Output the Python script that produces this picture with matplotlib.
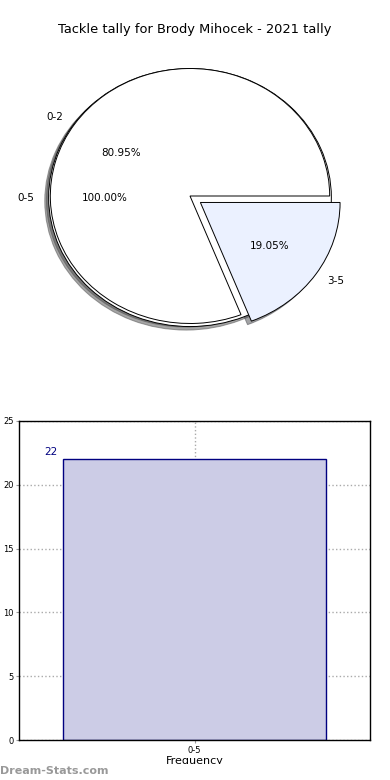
# tackle_tally.py
# Pie + bar summary of Brody Mihocek's 2021 tackle tally.

import matplotlib
matplotlib.use("Agg")
import matplotlib.pyplot as plt
from matplotlib.patches import Rectangle

# data
title = "Tackle tally for Brody Mihocek - 2021 tally"
total_labels = ["0-5"]
total_values = [22]
split_labels = ["0-2", "3-5"]
split_values = [17, 4]
split_explode = [0, 0.09]
bar_labels = ["0-5"]
bar_values = [22]


def draw_pie(ax):
    # outer pie: whole range as a single wedge, sits a touch lower
    ax.pie(total_values, labels=total_labels, autopct="%1.2f%%",
           startangle=0, shadow=True, colors=["white"],
           center=(0, -0.012), radius=1.012,
           wedgeprops={"edgecolor": "black", "linewidth": 0.7},
           textprops={"fontsize": 7.5})
    # inner pie: split of the range, drawn on top
    ax.pie(split_values, labels=split_labels, autopct="%1.2f%%",
           startangle=0, shadow=True, explode=split_explode,
           colors=["white", "#ebf1ff"],
           wedgeprops={"edgecolor": "black", "linewidth": 0.7},
           textprops={"fontsize": 7.5})
    ax.set_aspect("auto")
    ax.set_xlim(-1.26, 1.26)
    ax.set_ylim(-1.255, 1.255)


def draw_bars(ax):
    x = list(range(len(bar_labels)))
    bars = ax.bar(x, bar_values, width=0.75, color="#ccccE6",
                  edgecolor="#000080", linewidth=1.0, zorder=2)
    for b, v in zip(bars, bar_values):
        ax.annotate(str(v), (b.get_x(), v), xytext=(-4, 2),
                    textcoords="offset points", ha="right", va="bottom",
                    color="#000080", fontsize=7.5)
    ax.set_xlim(-0.5, 0.5)
    ax.set_ylim(0, 25)
    ax.set_yticks([0, 5, 10, 15, 20, 25])
    ax.set_xticks(x)
    ax.set_xticklabels(bar_labels)
    ax.tick_params(labelsize=6, length=2, pad=2, color="#999999")
    ax.grid(True, linestyle=":", color="#aaaaaa", linewidth=1.0, zorder=0)
    ax.set_axisbelow(True)
    for s in ax.spines.values():
        s.set_linewidth(1.0)
    ax.set_xlabel("Frequency", fontsize=8, labelpad=1)
    ax.set_ylabel("Games Played", fontsize=7, labelpad=1)
    ax.yaxis.set_label_coords(-0.05, 0.5)


def main():
    fig = plt.figure(figsize=(3.9, 7.8), dpi=100)
    fig.text(0.5, 1 - 30 / 780, title, ha="center", va="center", fontsize=9.4)

    ax_pie = fig.add_axes([14 / 390, 1 - 356 / 780, 352 / 390, 320 / 780])
    draw_pie(ax_pie)

    ax_bar = fig.add_axes([19 / 390, 1 - 740 / 780, 351 / 390, 319 / 780])
    draw_bars(ax_bar)

    # the source image is cropped just under the x label, watermark below it
    fig.patches.append(Rectangle((0, 0), 1, 16 / 780, transform=fig.transFigure,
                                 facecolor="white", edgecolor="none", zorder=5))
    fig.text(0.0, 9 / 780, "Dream-Stats.com", ha="left", va="center",
             fontsize=8, fontweight="bold", color="#999999", zorder=6)

    fig.savefig("out.png", dpi=100)


if __name__ == "__main__":
    main()
